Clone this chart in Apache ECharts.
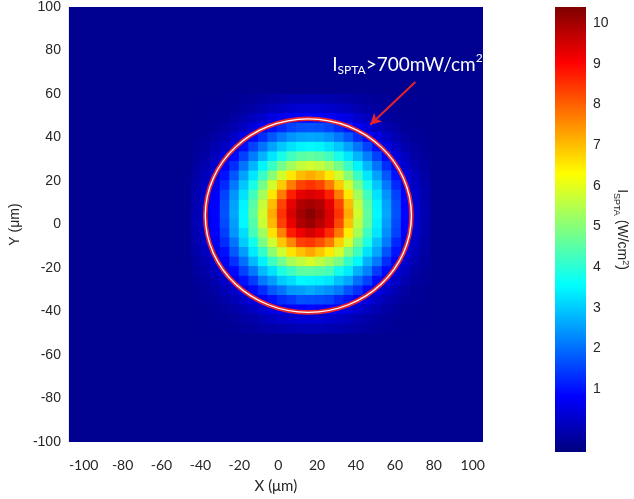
<!DOCTYPE html>
<html><head><meta charset="utf-8">
<script src="https://cdn.jsdelivr.net/npm/echarts@6/dist/echarts.min.js"></script>
<style>html,body{margin:0;padding:0;background:#fff}#c{width:634px;height:499px}</style>
</head><body><div id="c"></div>
<script>
// cell centres (μm)
const xCenters = [-42.3,-37.4,-32.5,-27.6,-22.7,-17.8,-12.9,-8.0,-3.1,1.8,6.7,11.6,16.5,21.4,26.3,31.2,36.1,41.0,45.9,50.8,55.7,60.6,65.5,70.4,75.3];
const yCenters = [57.8,53.4,49.0,44.6,40.2,35.8,31.4,27.0,22.6,18.2,13.8,9.4,5.0,0.6,-3.8,-8.2,-12.6,-17.0,-21.4,-25.8,-30.2,-34.6,-39.0,-43.4,-47.8];
// ISPTA (W/cm2), rows top -> bottom
const intensity = [
[-0.35,-0.35,-0.35,-0.33,-0.3,-0.28,-0.26,-0.2,-0.15,-0.09,-0.04,-0.01,0.0,-0.01,-0.04,-0.09,-0.15,-0.2,-0.26,-0.28,-0.3,-0.33,-0.35,-0.35,-0.35],
[-0.35,-0.35,-0.33,-0.3,-0.28,-0.2,-0.13,-0.02,0.1,0.2,0.28,0.34,0.35,0.34,0.28,0.2,0.1,-0.02,-0.13,-0.2,-0.28,-0.3,-0.33,-0.35,-0.35],
[-0.35,-0.33,-0.3,-0.27,-0.17,-0.05,0.12,0.28,0.49,0.63,0.76,0.82,0.85,0.82,0.76,0.63,0.49,0.28,0.12,-0.05,-0.17,-0.27,-0.3,-0.33,-0.35],
[-0.33,-0.3,-0.27,-0.16,-0.01,0.2,0.45,0.72,1.0,1.25,1.5,1.65,1.7,1.65,1.5,1.25,1.0,0.72,0.45,0.2,-0.01,-0.16,-0.27,-0.3,-0.33],
[-0.3,-0.28,-0.17,-0.01,0.22,0.55,0.9,1.3,1.75,2.1,2.4,2.55,2.6,2.55,2.4,2.1,1.75,1.3,0.9,0.55,0.22,-0.01,-0.17,-0.28,-0.3],
[-0.28,-0.2,-0.05,0.2,0.55,0.95,1.5,2.05,2.55,2.95,3.25,3.45,3.5,3.45,3.25,2.95,2.55,2.05,1.5,0.95,0.55,0.2,-0.05,-0.2,-0.28],
[-0.26,-0.13,0.12,0.45,0.9,1.5,2.15,2.75,3.3,3.8,4.25,4.5,4.6,4.5,4.25,3.8,3.3,2.75,2.15,1.5,0.9,0.45,0.12,-0.13,-0.26],
[-0.2,-0.02,0.28,0.72,1.3,2.05,2.75,3.45,4.15,4.8,5.3,5.65,5.8,5.65,5.3,4.8,4.15,3.45,2.75,2.05,1.3,0.72,0.28,-0.02,-0.2],
[-0.15,0.1,0.49,1.0,1.75,2.55,3.3,4.15,5.0,5.8,6.55,7.0,7.2,7.0,6.55,5.8,5.0,4.15,3.3,2.55,1.75,1.0,0.49,0.1,-0.15],
[-0.09,0.2,0.63,1.25,2.1,2.95,3.8,4.8,5.8,6.85,7.7,8.3,8.5,8.3,7.7,6.85,5.8,4.8,3.8,2.95,2.1,1.25,0.63,0.2,-0.09],
[-0.04,0.28,0.76,1.5,2.4,3.25,4.25,5.3,6.55,7.7,8.7,9.3,9.45,9.3,8.7,7.7,6.55,5.3,4.25,3.25,2.4,1.5,0.76,0.28,-0.04],
[-0.01,0.34,0.82,1.65,2.55,3.45,4.5,5.65,7.0,8.3,9.3,9.85,10.0,9.85,9.3,8.3,7.0,5.65,4.5,3.45,2.55,1.65,0.82,0.34,-0.01],
[0.0,0.35,0.85,1.7,2.6,3.5,4.6,5.8,7.2,8.5,9.45,10.0,10.3,10.0,9.45,8.5,7.2,5.8,4.6,3.5,2.6,1.7,0.85,0.35,0.0],
[0.02,0.36,0.84,1.62,2.5,3.5,4.45,5.7,7.05,8.35,9.25,9.9,10.1,9.8,9.35,8.25,6.95,5.6,4.55,3.4,2.5,1.6,0.8,0.33,-0.02],
[-0.02,0.3,0.78,1.48,2.42,3.2,4.3,5.25,6.6,7.65,8.75,9.2,9.5,9.25,8.6,7.75,6.5,5.35,4.2,3.3,2.35,1.52,0.74,0.27,-0.05],
[-0.07,0.22,0.64,1.28,2.05,3.0,3.75,4.85,5.75,6.9,7.6,8.35,8.45,8.2,7.75,6.8,5.85,4.75,3.85,2.9,2.12,1.22,0.62,0.19,-0.1],
[-0.12,0.12,0.5,0.97,1.78,2.5,3.35,4.1,5.05,5.75,6.6,6.95,7.25,6.9,6.5,5.85,4.95,4.2,3.25,2.6,1.72,1.02,0.47,0.09,-0.16],
[-0.18,0.0,0.3,0.7,1.32,2.0,2.8,3.4,4.2,4.75,5.35,5.6,5.85,5.6,5.25,4.85,4.1,3.5,2.7,2.1,1.28,0.74,0.27,-0.03,-0.21],
[-0.24,-0.1,0.14,0.48,0.88,1.52,2.1,2.8,3.25,3.85,4.2,4.55,4.55,4.45,4.3,3.75,3.35,2.7,2.2,1.45,0.92,0.44,0.13,-0.14,-0.26],
[-0.27,-0.18,-0.02,0.23,0.53,0.97,1.45,2.1,2.5,3.0,3.2,3.5,3.45,3.4,3.3,2.9,2.6,2.0,1.52,0.93,0.57,0.21,-0.05,-0.2,-0.28],
[-0.3,-0.26,-0.14,0.02,0.25,0.53,0.92,1.27,1.78,2.05,2.45,2.5,2.65,2.5,2.35,2.15,1.7,1.33,0.88,0.56,0.23,0.0,-0.16,-0.27,-0.3],
[-0.32,-0.28,-0.24,-0.12,0.02,0.24,0.46,0.74,0.98,1.28,1.45,1.68,1.65,1.62,1.53,1.22,1.02,0.7,0.47,0.22,0.0,-0.15,-0.26,-0.3,-0.33],
[-0.35,-0.32,-0.28,-0.24,-0.13,0.0,0.15,0.3,0.5,0.61,0.78,0.83,0.88,0.84,0.76,0.65,0.47,0.31,0.14,-0.03,-0.15,-0.26,-0.3,-0.33,-0.35],
[-0.35,-0.35,-0.32,-0.28,-0.25,-0.15,-0.08,0.03,0.14,0.24,0.3,0.36,0.38,0.36,0.3,0.22,0.12,0.0,-0.1,-0.18,-0.26,-0.3,-0.33,-0.35,-0.35],
[-0.35,-0.35,-0.35,-0.33,-0.3,-0.26,-0.22,-0.15,-0.1,-0.04,0.0,0.03,0.04,0.03,0.0,-0.05,-0.1,-0.15,-0.2,-0.26,-0.3,-0.33,-0.35,-0.35,-0.35]
];
const xTickValues = [-100,-80,-60,-40,-20,0,20,40,60,80,100];
const cbTickValues = [1,2,3,4,5,6,7,8,9,10];
const cbRange = [-0.55, 10.4];
const contour700 = [[15.5, 4.1, 53.0, 44.5]];   // centre x, centre y, radius x, radius y (μm)
const arrowFrom = [70.5, 65.5];
const arrowTo = [47.3, 45.9];
const labelAt = [[27.8, 73.6]];

const cellW = 4.9, cellH = 4.4;
const jet = ['#00007F','#0000FF','#0080FF','#00FFFF','#80FF80','#FFFF00','#FF8000','#FF0000','#7F0000'];

const heatData = [];
for (let r = 0; r < yCenters.length; r++)
  for (let c = 0; c < xCenters.length; c++)
    heatData.push([xCenters[c], yCenters[r], intensity[r][c]]);

const chart = echarts.init(document.getElementById('c'), null, {renderer: 'canvas'});
const txt = '#262626';
const option = {
  animation: false,
  backgroundColor: '#ffffff',
  grid: [
    {left: 61, top: 7, width: 422, height: 441, show: true, backgroundColor: '#000091', borderWidth: 0},
    {left: 555, top: 7, width: 31, height: 445}
  ],
  xAxis: [
    {gridIndex: 0, type: 'value', min: -107.6, max: 105.3,
     axisLine: {show: false}, axisTick: {show: false}, splitLine: {show: false},
     axisLabel: {customValues: xTickValues, fontFamily: 'Lato', fontSize: 14, color: txt, margin: 16},
     name: 'X (μm)', nameLocation: 'middle', nameGap: 37,
     nameTextStyle: {fontFamily: 'Lato', fontSize: 15, color: txt}},
    {gridIndex: 1, type: 'value', min: 0, max: 1, show: false}
  ],
  yAxis: [
    {gridIndex: 0, type: 'value', min: -100, max: 100, interval: 20,
     axisLine: {show: false}, axisTick: {show: false}, splitLine: {show: false},
     axisLabel: {fontFamily: 'Liberation Sans', fontSize: 14, color: txt, margin: 8},
     name: 'Y (μm)', nameLocation: 'middle', nameGap: 37, nameRotate: 90,
     nameTextStyle: {fontFamily: 'Liberation Sans', fontSize: 14, color: txt}},
    {gridIndex: 1, type: 'value', min: cbRange[0], max: cbRange[1], position: 'right',
     axisLine: {show: false}, splitLine: {show: false}, axisTick: {show: false},
     axisLabel: {customValues: cbTickValues, fontFamily: 'Liberation Sans', fontSize: 14, color: txt, margin: 7},
     name: '{a|I}{b|SPTA}{a| (W/cm}{c|2}{a|)}', nameLocation: 'middle', nameGap: 19, nameRotate: -90,
     nameTextStyle: {rich: {
       a: {fontFamily: 'Liberation Sans', fontSize: 14, color: txt, lineHeight: 18},
       b: {fontFamily: 'Liberation Sans', fontSize: 9, color: txt, lineHeight: 10, verticalAlign: 'bottom'},
       c: {fontFamily: 'Liberation Sans', fontSize: 9, color: txt, lineHeight: 10, verticalAlign: 'top'}
     }}}
  ],
  visualMap: {show: false, type: 'continuous', min: cbRange[0], max: cbRange[1], dimension: 2, seriesIndex: 0,
              inRange: {color: jet}},
  series: [
    {type: 'custom', xAxisIndex: 0, yAxisIndex: 0, data: heatData, encode: {x: 0, y: 1}, clip: true,
     renderItem: function (params, api) {
       const p = api.coord([api.value(0) - cellW / 2, api.value(1) + cellH / 2]);
       const s = api.size([cellW, cellH]);
       return {type: 'rect', shape: {x: p[0], y: p[1], width: s[0] + 0.6, height: s[1] + 0.6},
               style: {fill: api.visual('color')}};
     }},
    {type: 'custom', xAxisIndex: 0, yAxisIndex: 0, data: contour700, encode: {x: 0, y: 1}, silent: true,
     renderItem: function (params, api) {
       const c = api.coord([api.value(0), api.value(1)]);
       const s = api.size([api.value(2), api.value(3)]);
       const sh = {cx: c[0], cy: c[1], rx: s[0], ry: s[1]};
       return {type: 'group', children: [
         {type: 'ellipse', shape: sh, style: {fill: null, stroke: '#E5232D', lineWidth: 4.6}},
         {type: 'ellipse', shape: sh, style: {fill: null, stroke: '#FFFFFF', lineWidth: 1.3}}
       ]};
     },
     markLine: {silent: true, symbol: ['none', 'arrow'], symbolSize: [9, 11], animation: false,
       lineStyle: {color: '#E5232D', width: 2, type: 'solid'}, label: {show: false},
       data: [[{coord: arrowFrom}, {coord: arrowTo}]]}},
    {type: 'custom', xAxisIndex: 0, yAxisIndex: 0, data: labelAt, encode: {x: 0, y: 1}, silent: true, clip: false,
     renderItem: function (params, api) {
       const p = api.coord([api.value(0), api.value(1)]);
       return {type: 'text', x: p[0], y: p[1], style: {
         text: '{a|I}{b|SPTA}{a|>700mW/cm}{c|2}', align: 'left', verticalAlign: 'middle', fill: '#fff',
         rich: {
           a: {fontFamily: 'Lato', fontSize: 19, fill: '#fff', lineHeight: 24},
           b: {fontFamily: 'Lato', fontSize: 12, fill: '#fff', lineHeight: 12, verticalAlign: 'bottom'},
           c: {fontFamily: 'Lato', fontSize: 12, fill: '#fff', lineHeight: 14, verticalAlign: 'top'}
         }}};
     }},
    {type: 'custom', xAxisIndex: 1, yAxisIndex: 1, data: [[0, cbRange[0], cbRange[1]]], encode: {x: 0, y: 1}, silent: true,
     renderItem: function (params, api) {
       const top = api.coord([0, api.value(2)]);
       const bot = api.coord([1, api.value(1)]);
       return {type: 'rect', shape: {x: top[0], y: top[1], width: bot[0] - top[0], height: bot[1] - top[1]},
         style: {fill: {type: 'linear', x: 0, y: 1, x2: 0, y2: 0,
           colorStops: jet.map((c, i) => ({offset: i / (jet.length - 1), color: c}))}}};
     }}
  ]
};
chart.setOption(option);
</script></body></html>
